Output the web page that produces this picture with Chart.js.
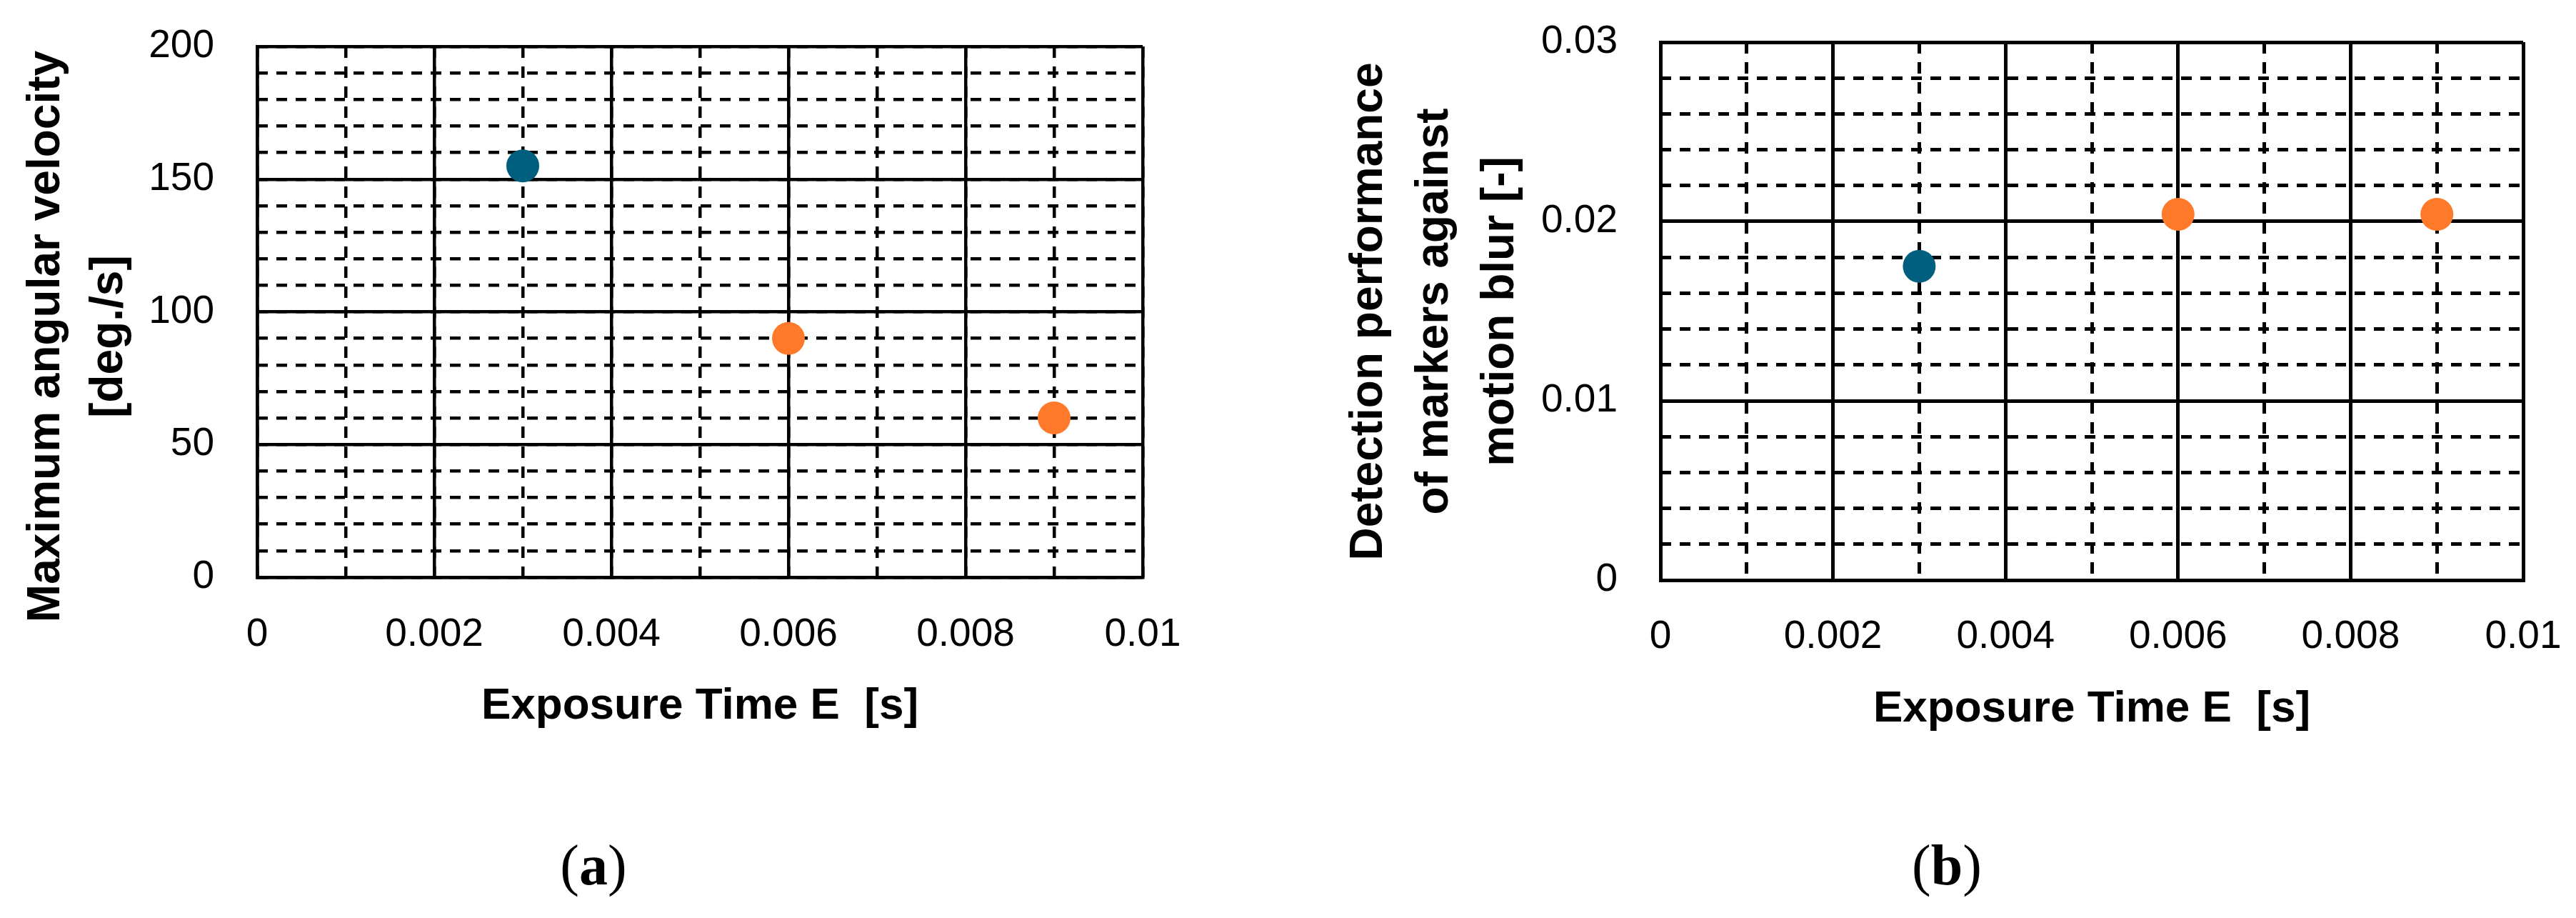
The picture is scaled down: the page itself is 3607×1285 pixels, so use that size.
<!DOCTYPE html>
<html>
<head>
<meta charset="utf-8">
<script src="https://cdn.jsdelivr.net/npm/chart.js@4.4.1/dist/chart.umd.min.js"></script>
<style>
  html, body { margin: 0; padding: 0; background: #fff; }
  body { width: 3607px; height: 1285px; position: relative; overflow: hidden; }
  canvas { position: absolute; top: 0; }
  #chartA { left: 0; }
  #chartB { left: 1780px; }
  .caption {
    position: absolute; top: 1171px; width: 300px; text-align: center;
    font-family: 'Liberation Serif', 'Times New Roman', serif;
    font-size: 80px; line-height: 80px; color: #000;
  }
</style>
</head>
<body>
<canvas id="chartA" width="1700" height="1100"></canvas>
<canvas id="chartB" width="1827" height="1100"></canvas>
<div class="caption" style="left:681px">(<b>a</b>)</div>
<div class="caption" style="left:2576px">(<b>b</b>)</div>
<script>
// values
const exposureTime = [0.003, 0.006, 0.009];
const maxAngularVelocity = [155, 90, 60];
const detectionPerformance = [0.0175, 0.0204, 0.0204];

const xTicks = [0, 0.002, 0.004, 0.006, 0.008, 0.01];
const yTicksA = [0, 50, 100, 150, 200];
const yTicksB = [0, 0.01, 0.02, 0.03];

const xTitle = 'Exposure Time E  [s]';
const yTitleA = ['Maximum angular velocity', '[deg./s]'];
const yTitleB = ['Detection performance', 'of markers against', 'motion blur [-]'];

const pointColors = ['#005F7F', '#FF792B', '#FF792B'];
const tickFont = { family: "'Liberation Sans', Arial, sans-serif", size: 55 };
const fmt = v => String(+Number(v).toFixed(4));

// rotated, multi-line y axis title
const yTitlePlugin = {
  id: 'yTitle',
  afterDraw(chart, args, opts) {
    const ctx = chart.ctx;
    ctx.save();
    ctx.font = 'bold 64px "Liberation Sans", Arial, sans-serif';
    ctx.fillStyle = '#000';
    ctx.textAlign = 'center';
    ctx.textBaseline = 'alphabetic';
    ctx.translate(0, opts.centerY);
    ctx.rotate(-Math.PI / 2);
    opts.lines.forEach((line, i) => ctx.fillText(line, 0, opts.baselines[i]));
    ctx.restore();
  }
};

function minorAxis(position, min, max, step, dash, lw) {
  return {
    type: 'linear', position: position, min: min, max: max,
    ticks: { display: false, stepSize: step, maxTicksLimit: 100 },
    grid: { color: '#000', lineWidth: lw, drawTicks: false },
    border: { display: false, dash: dash },
    afterFit: s => { if (position === 'left') s.width = 0; else s.height = 0; }
  };
}

function makeChart(id, yValues, yTicks, yMinorStep, c) {
  const xMin = xTicks[0], xMax = xTicks[xTicks.length - 1];
  const yMin = yTicks[0], yMax = yTicks[yTicks.length - 1];
  // the gap between axis and labels is made with invisible tick marks,
  // so that ticks.padding does not push the chart area around
  const gridOpts = len => ({
    color: '#000', lineWidth: c.lw, drawTicks: true,
    tickLength: len, tickColor: 'rgba(0,0,0,0)', tickWidth: 0
  });
  return new Chart(document.getElementById(id), {
    type: 'scatter',
    data: {
      datasets: [{
        data: exposureTime.map((x, i) => ({ x: x, y: yValues[i] })),
        pointBackgroundColor: pointColors,
        pointBorderWidth: 0,
        pointRadius: 23,
        pointHoverRadius: 23
      }]
    },
    plugins: [yTitlePlugin],
    options: {
      responsive: false,
      animation: false,
      devicePixelRatio: 1,
      clip: false,
      layout: { padding: { left: 0, right: c.padRight, top: c.padTop, bottom: 0 } },
      plugins: {
        legend: { display: false },
        tooltip: { enabled: false },
        yTitle: { lines: c.yTitle, baselines: c.baselines, centerY: c.centerY }
      },
      scales: {
        xMinor: minorAxis('bottom', xMin, xMax, 0.001, [16, 12], c.lw),
        yMinor: minorAxis('left', yMin, yMax, yMinorStep, [15, 12], c.lw),
        x: {
          type: 'linear', position: 'bottom', min: xMin, max: xMax,
          afterBuildTicks: s => { s.ticks = xTicks.map(v => ({ value: v })); },
          ticks: { autoSkip: false, maxRotation: 0, padding: 0, font: tickFont, color: '#000', callback: fmt },
          grid: gridOpts(c.xTickPad),
          border: { color: '#000', width: c.lw },
          title: {
            display: true, text: xTitle, color: '#000',
            font: { family: "'Liberation Sans', Arial, sans-serif", size: 62, weight: 'bold' },
            padding: { top: 0, bottom: c.xTitlePad }
          },
          afterFit: s => { s.height = c.xAxisHeight; }
        },
        y: {
          type: 'linear', position: 'left', min: yMin, max: yMax,
          afterBuildTicks: s => { s.ticks = yTicks.map(v => ({ value: v })); },
          ticks: { autoSkip: false, padding: 0, font: tickFont, color: '#000', callback: fmt },
          grid: gridOpts(60),
          border: { color: '#000', width: c.lw },
          afterFit: s => { s.width = c.yAxisWidth; }
        }
      }
    }
  });
}

makeChart('chartA', maxAngularVelocity, yTicksA, 10, {
  padRight: 100, padTop: 65, yAxisWidth: 360, xAxisHeight: 292, lw: 4.5,
  xTickPad: 48, xTitlePad: 74,
  yTitle: yTitleA, baselines: [83, 171], centerY: 471
});

makeChart('chartB', detectionPerformance, yTicksB, 0.002, {
  padRight: 74, padTop: 59, yAxisWidth: 545, xAxisHeight: 288, lw: 5,
  xTickPad: 47, xTitlePad: 70,
  yTitle: yTitleB, baselines: [155, 247, 339], centerY: 436
});
</script>
</body>
</html>
